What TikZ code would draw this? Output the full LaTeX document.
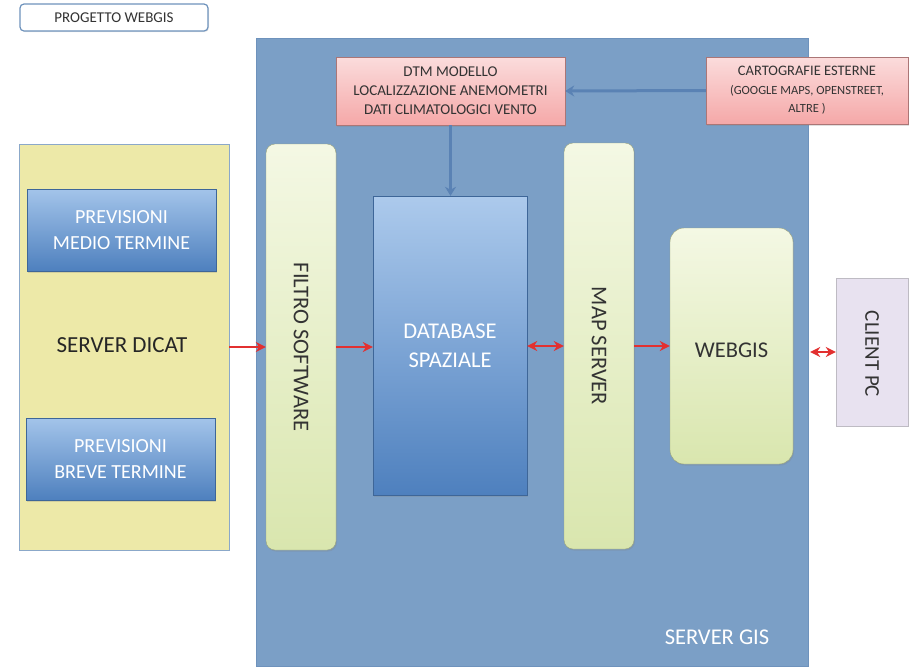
\documentclass[tikz,border=0pt]{standalone}
\usepackage{fontspec}
\setmainfont{Carlito}
\usetikzlibrary{arrows.meta,shapes.misc,shadows}
\definecolor{gisblue}{HTML}{7B9FC6}
\definecolor{gisborder}{HTML}{6E92BC}
\definecolor{dicatyellow}{HTML}{EDE9A8}
\definecolor{bluetop}{HTML}{A3C4EA}
\definecolor{bluebot}{HTML}{4E80BE}
\definecolor{greentop}{HTML}{F4F8E4}
\definecolor{greenbot}{HTML}{D9E6AE}
\definecolor{pinktop}{HTML}{FBDCDC}
\definecolor{pinkbot}{HTML}{F5A8A8}
\definecolor{lavender}{HTML}{E8E2F0}
\definecolor{redarrow}{HTML}{E23030}
\definecolor{bluearrow}{HTML}{5A82B4}
\definecolor{textgray}{HTML}{333333}
\tikzset{
  x=1pt, y=-1pt,
  bluebox/.style={draw=bluebot!80!black, top color=bluetop, bottom color=bluebot, text=white, align=center, font=\fontsize{20}{26}\selectfont, drop shadow={opacity=0.25,shadow xshift=1pt,shadow yshift=-1.5pt}},
  greenbox/.style={draw=greenbot!70!black, top color=greentop, bottom color=greenbot, rounded corners=9pt, text=textgray, drop shadow={opacity=0.25,shadow xshift=1pt,shadow yshift=-1.5pt}},
  biglabel/.style={font=\fontsize{22.5}{26}\selectfont, text=textgray},
  pinkbox/.style={draw=pinkbot!70!black, top color=pinktop, bottom color=pinkbot, align=center, text=textgray, drop shadow={opacity=0.25,shadow xshift=1pt,shadow yshift=-1.5pt}},
  redarr/.style={draw=redarrow, line width=2.6pt, -{Stealth[length=10pt,width=10pt]}},
  redboth/.style={draw=redarrow, line width=2.6pt, {Stealth[length=10pt,width=10pt]}-{Stealth[length=10pt,width=10pt]}},
  bluearr/.style={draw=bluearrow, line width=3pt, -{Stealth[length=9pt,width=11pt]}},
}
\begin{document}
\begin{tikzpicture}
\useasboundingbox (0,0) rectangle (910,670);
% title
\node[draw=gisborder, line width=1.2pt, fill=white, rounded corners=4pt, minimum width=188pt, minimum height=27pt, anchor=center, font=\fontsize{15}{17}\selectfont, text=textgray, drop shadow={opacity=0.2,shadow xshift=1pt,shadow yshift=-1pt}] (title) at (114,17.5) {PROGETTO WEBGIS};
% server GIS
\node[draw=gisborder, fill=gisblue, minimum width=552pt, minimum height=628pt, inner sep=0pt] (gis) at (532,352) {};
\node[text=white, font=\fontsize{22.5}{26}\selectfont, anchor=center] (gislabel) at (717,637) {SERVER GIS};
% server DICAT
\node[draw=gisborder!80, fill=dicatyellow, minimum width=210pt, minimum height=406pt, inner sep=0pt] (dicat) at (124,347) {};
\node[font=\fontsize{23}{26}\selectfont, text=black!85] (dicatlabel) at (122,345) {SERVER DICAT};
\node[bluebox, minimum width=189pt, minimum height=82pt] (medio) at (121.5,230) {PREVISIONI\\MEDIO TERMINE};
\node[bluebox, minimum width=189pt, minimum height=82pt] (breve) at (120.5,459) {PREVISIONI\\BREVE TERMINE};
% filtro
\node[greenbox, minimum width=70pt, minimum height=406pt] (filtro) at (301,347) {};
\node[rotate=-90, biglabel] (filtrolabel) at (301,347) {FILTRO SOFTWARE};
% DTM
\node[pinkbox, minimum width=229pt, minimum height=68pt, font=\fontsize{15}{19}\selectfont] (dtm) at (450.5,91) {DTM MODELLO\\LOCALIZZAZIONE ANEMOMETRI\\DATI CLIMATOLOGICI VENTO};
% cartografie
\node[pinkbox, minimum width=202pt, minimum height=67pt, font=\fontsize{14.5}{18}\selectfont] (carto) at (807,90.5) {CARTOGRAFIE ESTERNE\\[1pt]{\fontsize{12.5}{16}\selectfont (GOOGLE MAPS, OPENSTREET,}\\{\fontsize{12.5}{16}\selectfont ALTRE )}};
% database
\node[bluebox, minimum width=154pt, minimum height=299pt, font=\fontsize{22.5}{29}\selectfont, top color=bluetop!90!white, bottom color=bluebot] (db) at (450,345.5) {DATABASE\\SPAZIALE};
% map server
\node[greenbox, minimum width=70pt, minimum height=406pt] (map) at (599,346) {};
\node[rotate=-90, biglabel] (maplabel) at (599,346) {MAP SERVER};
% webgis
\node[greenbox, rounded corners=14pt, minimum width=123pt, minimum height=236pt] (webgis) at (731.5,346) {};
\node[biglabel] (webgislabel) at (731.5,350) {WEBGIS};
% client
\node[draw=lavender!60!gray, fill=lavender, chamfered rectangle, chamfered rectangle corners=north west, chamfered rectangle xsep=10pt, chamfered rectangle ysep=10pt, minimum width=72pt, minimum height=148pt, inner sep=0pt] (client) at (872,352) {};
\node[rotate=-90, font=\fontsize{21}{24}\selectfont, text=textgray] (clientlabel) at (872,354) {CLIENT PC};
% arrows
\draw[bluearr] (carto.west) -- (dtm.east);
\draw[bluearr] (dtm.south) -- (dtm.south |- db.north);
\draw[redarr] (dicat.east |- filtro) -- (filtro.west);
\draw[redarr] (filtro.east) -- (db.west |- filtro);
\draw[redboth] (db.east |- map) -- (map.west);
\draw[redarr] (map.east) -- (webgis.west);
\draw[redboth, shorten <=2pt] (gis.east |- client.west) -- (client.west);
\end{tikzpicture}
\end{document}
